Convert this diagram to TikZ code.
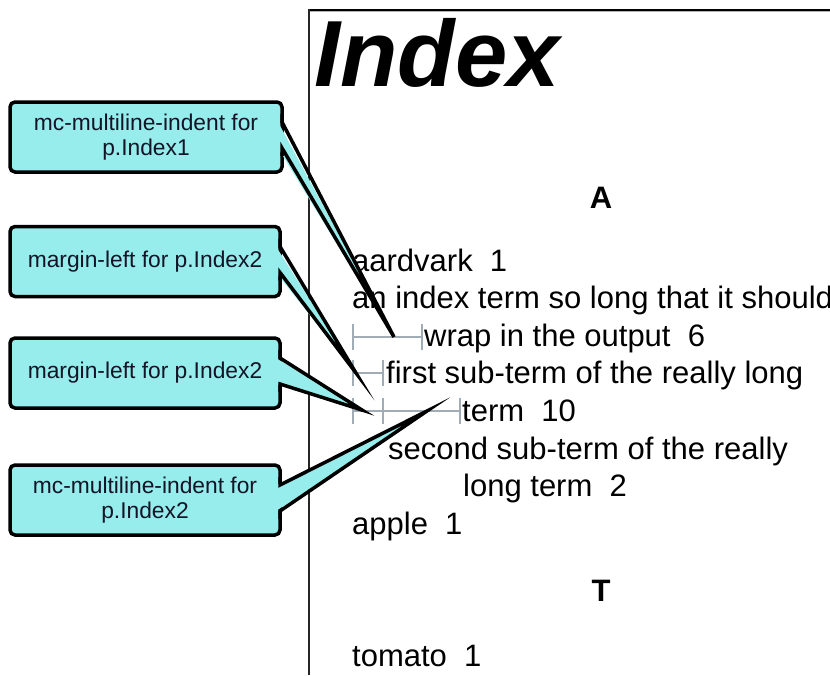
\documentclass[tikz,border=0pt]{standalone}
\usepackage{fontspec}
\setmainfont{Liberation Sans}
\usetikzlibrary{calc}
\definecolor{callcyan}{RGB}{150,237,235}
\definecolor{dimgray}{RGB}{160,172,182}
\definecolor{calltext}{RGB}{20,20,40}
\begin{document}
\begin{tikzpicture}[x=1pt,y=-1pt,
  callbox/.style={draw=black, line width=3.5pt, fill=callcyan, rounded corners=5pt,
    inner sep=0pt, outer sep=0pt, align=center, text=calltext,
    font=\fontsize{22.8}{25.5}\selectfont, minimum height=70pt},
  wedgefill/.style={fill=callcyan},
  wedgeline/.style={draw=black, line width=3.5pt, line join=miter, miter limit=20},
  entry/.style={anchor=base west, inner sep=0pt, font=\fontsize{31}{36}\selectfont},
  letterhead/.style={anchor=base, inner sep=0pt, font=\fontsize{31}{36}\selectfont\bfseries},
  dimline/.style={draw=dimgray, line width=2pt},
  frameline/.style={draw=black!85, line width=1.3pt}]
\useasboundingbox (0,0) rectangle (830,675);

% page frame
\draw[gray!60, line width=1pt] (309,11.6) -- (830,11.6);
\draw[black, line width=1.8pt] (308.4,9.6) -- (830,9.6);
\draw[frameline] (309,9) -- (309,675);

% title and letter heads
\node[anchor=base west, inner sep=0pt, font=\fontsize{94}{94}\selectfont\bfseries\itshape] (title) at (314,86) {Index};
\node[letterhead] (hA) at (601,208) {A};
\node[letterhead] (hT) at (601,601) {T};

% entries
\node[entry] (e1) at (352,271) {aardvark\ \ 1};
\node[entry] (e2) at (352,308.5) {an index term so long that it should};
\node[entry] (e3) at (424,346) {wrap in the output\ \ 6};
\node[entry] (e4) at (386,383.5) {first sub-term of the really long};
\node[entry] (e5) at (462,421) {term\ \ 10};
\node[entry] (e6) at (388,459) {second sub-term of the really};
\node[entry] (e7) at (463,496.5) {long term\ \ 2};
\node[entry] (e8) at (352,534) {apple\ \ 1};
\node[entry] (e9) at (352,666) {tomato\ \ 1};

% dimension marks
\coordinate (d1a) at (353,336.5); \coordinate (d1b) at (422,336.5);
\coordinate (d2a) at (353,373);   \coordinate (d2b) at (383,373);
\coordinate (d3a) at (353,410.5); \coordinate (d3m) at (383,410.5); \coordinate (d3b) at (460,410.5);
\draw[dimline] (d1a) -- (d1b);
\draw[dimline] ($(d1a)+(0,-13)$) -- ($(d1a)+(0,13)$);
\draw[dimline] ($(d1b)+(0,-13)$) -- ($(d1b)+(0,13)$);
\draw[dimline] (d2a) -- (d2b);
\draw[dimline] ($(d2a)+(0,-13)$) -- ($(d2a)+(0,13)$);
\draw[dimline] ($(d2b)+(0,-13)$) -- ($(d2b)+(0,13)$);
\draw[dimline] (d3a) -- (d3b);
\draw[dimline] ($(d3a)+(0,-13)$) -- ($(d3a)+(0,13)$);
\draw[dimline] ($(d3m)+(0,-13)$) -- ($(d3m)+(0,13)$);
\draw[dimline] ($(d3b)+(0,-13)$) -- ($(d3b)+(0,13)$);

% callout tips
\coordinate (tip1) at (394,337);
\coordinate (tip2) at (356,373);
\coordinate (tip3) at (362,410);
\coordinate (tip4) at (427,411);

% callouts
\node[callbox, minimum width=272pt] (c1) at (146,137) {mc-multiline-indent for\\p.Index1};
\node[callbox, minimum width=270pt] (c2) at (145,261.5) {margin-left for p.Index2};
\node[callbox, minimum width=270pt] (c3) at (145,373) {margin-left for p.Index2};
\node[callbox, minimum width=270pt] (c4) at (145,500) {mc-multiline-indent for\\p.Index2};

\foreach \c/\t in {c1/tip1, c2/tip2, c3/tip3, c4/tip4}{
  \fill[wedgefill] ($(\c.north east)+(-4,20)$) -- (\t) -- ($(\c.north east)+(-4,46)$) -- cycle;
  \draw[wedgeline] ($(\c.north east)+(0,12)$) -- ($(\c.north east)+(0,20)$) -- (\t)
    -- ($(\c.north east)+(0,46)$) -- ($(\c.north east)+(0,54)$);
}
\end{tikzpicture}
\end{document}
